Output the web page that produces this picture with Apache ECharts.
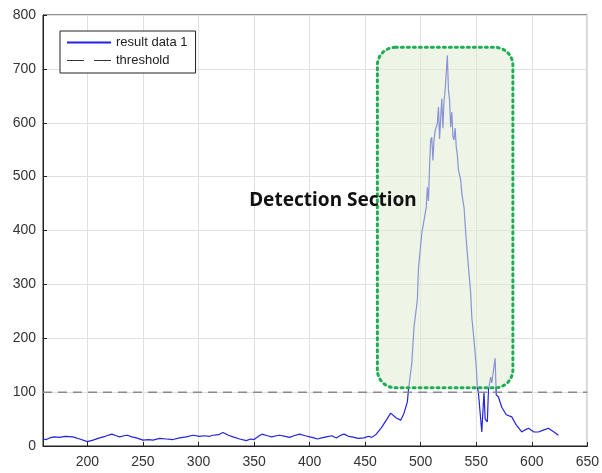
<!DOCTYPE html>
<html>
<head>
<meta charset="utf-8">
<script src="https://cdn.jsdelivr.net/npm/echarts@6/dist/echarts.min.js"></script>
<title>Detection Section</title>
<style>
  html, body { margin: 0; padding: 0; background: #fff; }
  #main { width: 602px; height: 473px; }
</style>
</head>
<body>
<div id="main"></div>
<script type="text/javascript">
// x positions and signal values
var xs = [160, 163, 166, 170, 175, 180, 187, 193, 200, 205, 211, 216, 222, 226, 229, 233, 236,
  240, 244, 250, 255, 259, 265, 271, 277, 283, 289, 295, 301, 305,
  310, 313, 318, 322, 327, 331, 337, 343, 347, 350, 354, 357, 362, 366, 370, 373, 378,
  382, 386, 391, 396, 400, 404, 407, 411, 415, 420, 424, 428, 431, 435, 438, 444,
  449, 453, 456, 460, 465, 469, 473, 478, 482, 485, 488, 489, 492, 494, 497, 498, 501, 505,
  506, 507, 508, 509, 510, 511, 512, 513, 515, 516, 517, 518, 519, 520, 521, 522, 523, 524,
  525, 526, 527, 528, 529, 530, 531, 532, 533, 534, 536, 537, 539, 541, 543, 545, 546, 548,
  550, 551, 552, 553, 555, 557, 558, 560, 561, 563, 564, 567, 568, 570, 573, 577, 582, 586,
  591, 594, 597, 602, 606, 611, 615, 620, 624];
var ys = [13, 12, 15, 17, 16, 18, 17, 13, 8, 11, 15, 18, 22, 19, 17, 19, 20,
  17, 15, 11, 12, 11, 14, 13, 12, 15, 17, 20, 18, 19,
  18, 20, 21, 25, 20, 17, 13, 10, 13, 12, 18, 22, 19, 17, 19, 20, 18,
  16, 19, 22, 19, 17, 15, 13, 15, 17, 19, 15, 20, 22, 18, 17, 14,
  15, 18, 16, 22, 35, 48, 61, 52, 48, 61, 82, 104, 154, 221, 271, 330, 395, 443,
  480, 455, 520, 568, 573, 530, 568, 585, 599, 629, 570, 610, 645, 590, 640, 660, 692, 725,
  660, 642, 592, 620, 575, 568, 590, 555, 540, 512, 494, 469, 443, 382, 332, 284, 239, 197,
  147, 110, 98, 100, 26, 100, 50, 45, 104, 128, 117, 163, 95, 91, 72, 58, 54, 39,
  26, 30, 33, 26, 26, 30, 33, 26, 20];
var threshold = 100;
var xRange = [160, 650];
var yRange = [0, 800];
// detection box corners (data units) and label position
var boxX = [461, 583];
var boxY = [108, 740];
var labelPos = [421, 456];

var data = xs.map(function (x, i) { return [x, ys[i]]; });

var myChart = echarts.init(document.getElementById('main'));

var option = {
  animation: false,
  grid: { left: 43, top: 15, right: 14, bottom: 27, show: true, borderColor: '#222', borderWidth: 1 },
  legend: {
    left: 60, top: 31, orient: 'vertical',
    backgroundColor: '#fff', borderColor: '#222', borderWidth: 1,
    padding: [5, 8, 6, 6], itemGap: 5, itemWidth: 44, itemHeight: 12,
    itemStyle: { opacity: 0 },
    textStyle: { fontFamily: 'Liberation Sans', fontSize: 13, color: '#222' },
    data: [
      { name: 'result data 1' },
      { name: 'threshold', lineStyle: { color: '#333', width: 1, type: [17, 10] } }
    ]
  },
  xAxis: {
    type: 'value', min: xRange[0], max: xRange[1], splitNumber: 10,
    axisLine: { show: true, onZero: false, lineStyle: { color: '#222' } },
    axisTick: { inside: true, length: 4, lineStyle: { color: '#222' } },
    axisLabel: { showMinLabel: false, fontFamily: 'Liberation Sans', fontSize: 14, color: '#333', margin: 9 },
    splitLine: { lineStyle: { color: '#e0e0e0' } }
  },
  yAxis: {
    type: 'value', min: yRange[0], max: yRange[1], interval: 100,
    axisLine: { show: true, lineStyle: { color: '#222' } },
    axisTick: { show: true, inside: true, length: 4, lineStyle: { color: '#222' } },
    axisLabel: { fontFamily: 'Liberation Sans', fontSize: 14, color: '#333', margin: 7 },
    splitLine: { lineStyle: { color: '#e0e0e0' } }
  },
  series: [
    {
      name: 'result data 1', type: 'line', data: data,
      symbol: 'none', lineStyle: { color: '#2323e0', width: 1.2 }, itemStyle: { color: '#2323e0' }
    },
    {
      name: 'threshold', type: 'line', data: [[xRange[0], threshold], [xRange[1], threshold]],
      symbol: 'none', lineStyle: { color: '#8a8a8a', width: 1.5, type: [9, 6] }, itemStyle: { color: '#444' }
    }
  ]
};
myChart.setOption(option);

var p0 = myChart.convertToPixel({ gridIndex: 0 }, [boxX[0], boxY[1]]);
var p1 = myChart.convertToPixel({ gridIndex: 0 }, [boxX[1], boxY[0]]);
var pl = myChart.convertToPixel({ gridIndex: 0 }, labelPos);
myChart.setOption({
  graphic: [
    {
      type: 'rect', z: 10,
      shape: { x: p0[0], y: p0[1], width: p1[0] - p0[0], height: p1[1] - p0[1], r: 18 },
      style: { fill: 'rgba(224,237,209,0.55)', stroke: '#1fae55', lineWidth: 3, lineDash: [2, 4], lineCap: 'round' }
    },
    {
      type: 'text', z: 20, x: pl[0], y: pl[1],
      style: {
        text: 'Detection Section', fill: '#111', font: 'bold 19px "Noto Sans"',
        textAlign: 'center', textVerticalAlign: 'middle'
      }
    }
  ]
});
</script>
</body>
</html>
